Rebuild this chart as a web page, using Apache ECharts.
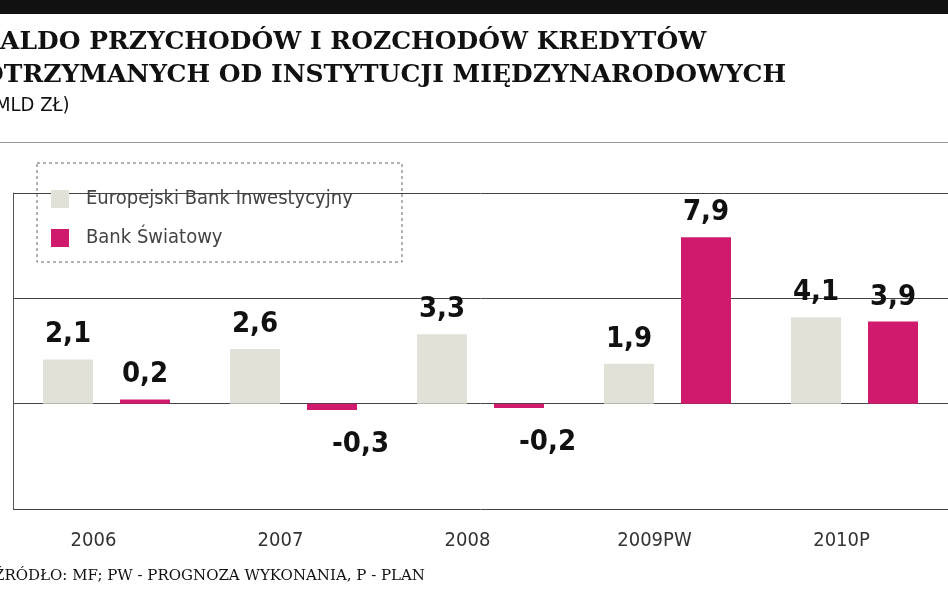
<!DOCTYPE html>
<html><head><meta charset="utf-8">
<script src="https://cdn.jsdelivr.net/npm/echarts@6/dist/echarts.min.js"></script>
<style>html,body{margin:0;background:#fff}#c{width:948px;height:593px}</style>
</head><body><div id="c"></div>
<script>
const categories = ['2006', '2007', '2008', '2009PW', '2010P'];
const ebi = [2.1, 2.6, 3.3, 1.9, 4.1];
const bankSwiatowy = [0.2, -0.3, -0.2, 7.9, 3.9];
const yTicks = [-5, 0, 5, 10];

const fmt = p => String(p.value).replace('.', ',');
const labelStyle = {
    show: true, formatter: fmt, color: '#111', fontSize: 29,
    fontFamily: 'DejaVu Sans Condensed', fontWeight: 'bold', distance: 10
};
const chart = echarts.init(document.getElementById('c'));
chart.setOption({
    animation: false,
    grid: { left: 13, width: 958, top: 193, bottom: 84 },
    legend: {
        left: 46, top: 184, orient: 'vertical', itemGap: 19,
        itemWidth: 18, itemHeight: 18, icon: 'rect', selectedMode: false,
        textStyle: { color: '#444', fontSize: 20, fontFamily: 'DejaVu Sans Condensed', fontWeight: 300, padding: [0, 0, 0, 12] },
        data: ['Europejski Bank Inwestycyjny', 'Bank Światowy']
    },
    xAxis: {
        type: 'category', data: categories,
        axisLine: { show: false }, axisTick: { show: false },
        axisLabel: { color: '#333', fontSize: 20, fontFamily: 'DejaVu Sans Condensed', margin: 22, padding: [0, 26, 0, 0] }
    },
    yAxis: {
        type: 'value', min: yTicks[0], max: yTicks[yTicks.length - 1], interval: 5,
        axisLine: { show: true, lineStyle: { color: '#555', width: 1 } },
        axisTick: { show: false }, axisLabel: { show: false },
        splitLine: { lineStyle: { color: '#444', width: 1 } }
    },
    series: [
        {
            name: 'Europejski Bank Inwestycyjny', type: 'bar', data: ebi,
            barWidth: 50, barGap: '54%', itemStyle: { color: '#e2e1d8' },
            label: Object.assign({ position: 'top' }, labelStyle)
        },
        {
            name: 'Bank Światowy', type: 'bar', data: bankSwiatowy,
            barWidth: 50, itemStyle: { color: '#cf1a6e' },
            label: Object.assign({}, labelStyle, { position: 'top' }),
            labelLayout: p => p.rect && bankSwiatowy[p.dataIndex] < 0 ? { y: p.rect.y + p.rect.height + 20 } : {}
        }
    ],
    graphic: [
        { type: 'rect', shape: { x: 0, y: 0, width: 948, height: 14 }, style: { fill: '#111' } },
        { type: 'text', left: -18, top: 30, style: { text: 'SALDO PRZYCHODÓW I ROZCHODÓW KREDYTÓW', fill: '#111', font: 'bold 25px "DejaVu Serif"' } },
        { type: 'text', left: -18, top: 63, style: { text: 'OTRZYMANYCH OD INSTYTUCJI MIĘDZYNARODOWYCH', fill: '#111', font: 'bold 25px "DejaVu Serif"' } },
        { type: 'text', left: -12, top: 96, style: { text: '(MLD ZŁ)', fill: '#111', font: '20px "DejaVu Sans Condensed"' } },
        { type: 'rect', shape: { x: 0, y: 142, width: 948, height: 1 }, style: { fill: '#999' } },
        { type: 'rect', shape: { x: 37, y: 163, width: 365, height: 99 }, style: { fill: 'none', stroke: '#666', lineWidth: 1, lineDash: [3, 3] } },
        { type: 'text', left: -6, top: 569, style: { text: 'ŹRÓDŁO: MF; PW - PROGNOZA WYKONANIA, P - PLAN', fill: '#111', font: '15px "DejaVu Serif"' } }
    ]
});
</script></body></html>
